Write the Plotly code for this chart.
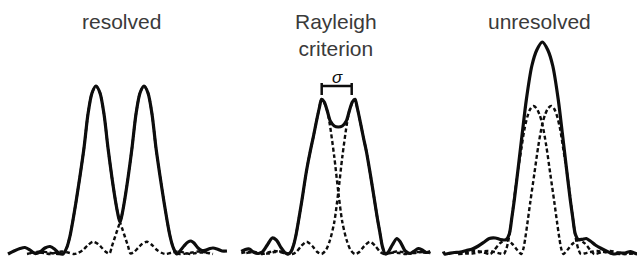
import plotly.graph_objects as go

# ---------------- data (positions relative to panel centre, intensity in a.u.) ----------------
panel_titles = ["resolved", "Rayleigh<br>criterion", "unresolved"]

# Panel 1: resolved
res_sum_x = [-112, -106, -100, -95, -90, -85, -80, -75, -70, -65, -61, -57,
             -53, -50, -47, -44, -40, -36, -32, -28, -24,
             -20, -16, -12, -8, -4, -1.5, 0, 1.5, 4, 8, 12, 16, 20, 24,
             28, 32, 36, 40, 44, 47, 50, 53, 56.7,
             60, 64, 68, 71, 74, 78, 82, 86, 90, 93, 97, 102, 107]
res_sum_y = [0, 3, 5.5, 6.5, 4, 0.5, 2, 6, 7.5, 4.5, 1, 0,
             7, 18, 34, 52, 78, 106, 140, 161, 168,
             161, 140, 106, 76, 50, 37, 32, 37, 50, 76, 106, 140, 161, 168,
             161, 140, 106, 78, 52, 34, 18, 7, 0,
             3, 8, 12, 13, 11, 6, 3.5, 4, 5.5, 6, 5, 3, 3]

res_a_x = [-90, -84, -78, -72, -66, -60, -56, -53, -50, -47, -44, -40, -36, -32, -28, -24,
           -20, -16, -12, -8, -4, -1.5, 0, 2, 4, 6, 8, 10.5, 14, 18, 22, 27, 32, 37, 42, 46,
           52, 58, 64, 70, 76, 82, 88, 93]
res_a_y = [1, 2, 2.5, 1.5, 0.5, 0, 1, 7, 18, 34, 52, 78, 106, 140, 161, 168,
           161, 140, 106, 76, 50, 37, 32, 26, 20, 14, 8, 0.5, 2, 6, 10, 12.3, 9, 4, 1, 0,
           1.5, 2.5, 1.5, 0, 1, 1.5, 1, 0]

res_b_x = [-93, -88, -82, -76, -70, -64, -58, -52, -46, -42, -37, -32, -27, -22, -18, -14,
           -10.5, -8, -6, -4, -2, 0, 1.5, 4, 8, 12, 16, 20, 24, 28, 32, 36, 40, 44, 47, 50,
           53, 56, 60, 66, 72, 78, 84, 90]
res_b_y = [0, 1, 1.5, 1, 0, 1.5, 2.5, 1.5, 0, 1, 4, 9, 12.3, 10, 6, 2,
           0.5, 8, 14, 20, 26, 32, 37, 50, 76, 106, 140, 161, 168, 161, 140, 106, 78, 52, 34, 18,
           7, 1, 0, 0.5, 1.5, 2.5, 2, 1]

# Panel 2: Rayleigh criterion
ray_sum_x = [-97, -93, -89, -85, -80, -76, -71, -66, -62, -57, -53, -50,
             -47.5, -45, -42.5, -40, -36.5, -32, -28, -25, -22, -19, -16.7,
             -14, -11, -8, -4, 0, 4, 8, 11, 14,
             16.7, 19, 22, 25, 28, 32, 36, 39, 41.5, 44, 47,
             50, 54, 58.5, 62, 67, 72, 76, 80, 84, 88, 92]
ray_sum_y = [2.5, 4.5, 5, 2, 0.5, 2, 9, 16, 14, 6, 1, 0,
             2, 8, 18, 32, 53, 82, 103, 117, 132, 146, 154.7,
             152, 143, 133, 128, 127, 128, 133, 143, 152,
             154.7, 146, 132, 117, 103, 80, 55, 36, 22, 8, 0,
             2, 9, 15.5, 12, 3, 0.5, 3, 5.5, 4, 1.5, 2.5]

ray_a_x = [-97, -90, -83, -76, -70, -64, -58, -53, -50, -47.5, -45, -42.5, -40, -36.5, -32,
           -28, -25, -22, -19, -16.7, -14, -11, -8.4, -4, 0, 4, 8.3, 12.3, 16.7,
           21, 26, 31.7, 37, 42, 46, 52, 58, 64, 70, 76, 84, 92]
ray_a_y = [1, 2, 1, 0, 1.5, 3, 2, 0.5, 0, 2, 8, 18, 32, 53, 82,
           103, 117, 132, 146, 154.7, 151, 143, 129, 97, 62, 32, 14, 4, 0,
           2, 8, 12.3, 8, 2, 0, 1, 2.5, 2, 0.5, 1, 2, 1]

ray_b_x = [-92, -84, -76, -70, -64, -58, -52, -46, -42, -37, -31.7, -26, -21, -16.7, -12.3,
           -8.3, -4, 0, 4, 8.4, 11, 14, 16.7, 19, 22, 25, 28, 32, 36, 39, 41.5, 44, 47,
           50, 55, 61, 67, 73, 79, 85, 92]
ray_b_y = [1, 2, 1, 0.5, 2, 2.5, 1, 0, 2, 8, 12.3, 8, 2, 0, 4,
           14, 32, 62, 97, 129, 143, 151, 154.7, 146, 132, 117, 103, 80, 55, 36, 22, 8, 0,
           0.5, 1.5, 1, 0, 1, 2, 1.5, 1]

# Panel 3: unresolved
unr_sum_x = [-99, -97.5, -94, -88, -82, -76, -70, -64, -58, -53, -47, -42, -38, -36, -33,
             -30.5, -28, -24, -20, -16, -10.5, -5.5, 0, 5.5, 10.5, 16, 20, 24, 28, 30.5,
             33, 36, 40, 44, 48, 53, 59, 65, 71, 77, 82.7, 88, 92, 95]
unr_sum_y = [2.5, 0, 0.5, 1.5, 2, 3.5, 5, 8, 12, 15.5, 16, 14.5, 14, 14.5, 20,
             36, 54, 87, 121, 154, 188, 204, 212, 204, 188, 154, 121, 87, 54, 36,
             20, 14.5, 14.7, 15.5, 13, 9, 5.5, 2.5, 0, 1, 1, 2.5, 1, 0]

unr_a_x = [-84, -76, -70, -62, -55, -48, -42, -38.5, -36, -34, -32, -30, -27, -24, -21,
           -18, -15, -12, -9, -6, -3, 0, 4, 8, 12, 15, 17, 19, 21,
           25, 30, 36, 42, 48, 52, 60, 68, 76, 84, 92]
unr_a_y = [0, 0.5, 0.5, 2, 3, 2, 0.5, 0, 5, 13, 25, 40, 64, 86, 105,
           124, 137, 145, 148, 146, 140, 130, 108, 80, 52, 30, 16, 5, 0,
           4, 10, 14, 11, 4, 0, 2, 3, 1.5, 0, 1]

unr_b_x = [-84, -76, -68, -60, -52, -48, -42, -36, -30, -25, -21, -19, -17, -15, -12,
           -8, -4, 0, 3, 6, 9, 12, 15, 18, 21, 24, 27, 30, 32, 34, 36, 38.5,
           42, 48, 55, 62, 70, 80, 90, 94]
unr_b_y = [0, 1.5, 3, 2, 0, 4, 11, 14, 10, 4, 0, 5, 16, 30, 52,
           80, 108, 130, 140, 146, 148, 145, 137, 124, 105, 86, 64, 40, 25, 13, 5, 0,
           0.5, 2, 3, 2, 0.5, 0, 0.5, 0]

# Rayleigh separation marker (sigma) ends and level
sigma_ends = [-16.6, 13.4]
sigma_level = 168

# ---------------- figure ----------------
W, H = 637, 263
panel_px = [(0, 234, 120), (234, 437, 338.3), (437, 637, 542.3)]  # left, right, centre (px)
y_range = [-9, 254]

fig = go.Figure()
solid = dict(color="#0d0d0d", width=3.2)
dashed = dict(color="#0d0d0d", width=2.4, dash="4px,2.6px")

panels = [
    (res_a_x, res_a_y, res_b_x, res_b_y, res_sum_x, res_sum_y),
    (ray_a_x, ray_a_y, ray_b_x, ray_b_y, ray_sum_x, ray_sum_y),
    (unr_a_x, unr_a_y, unr_b_x, unr_b_y, unr_sum_x, unr_sum_y),
]

for i, (ax, ay, bx, by, sx, sy) in enumerate(panels):
    suffix = "" if i == 0 else str(i + 1)
    xa, ya = "x" + suffix, "y" + suffix
    for xx, yy in ((ax, ay), (bx, by)):
        fig.add_trace(go.Scatter(x=xx, y=yy, mode="lines", line=dict(**dashed, shape="spline", smoothing=0.8),
                                 xaxis=xa, yaxis=ya, hoverinfo="skip", showlegend=False))
    fig.add_trace(go.Scatter(x=sx, y=sy, mode="lines", line=dict(**solid, shape="spline", smoothing=0.8),
                             xaxis=xa, yaxis=ya, hoverinfo="skip", showlegend=False))

layout = dict(width=W, height=H, margin=dict(l=0, r=0, t=0, b=0),
              paper_bgcolor="white", plot_bgcolor="white", showlegend=False)
for i, (l, r, c) in enumerate(panel_px):
    suffix = "" if i == 0 else str(i + 1)
    layout["xaxis" + suffix] = dict(domain=[l / W, r / W], range=[l - c, r - c], visible=False,
                                    fixedrange=True, anchor="y" + suffix)
    layout["yaxis" + suffix] = dict(domain=[0, 1], range=y_range, visible=False, fixedrange=True,
                                    anchor="x" + suffix)
fig.update_layout(**layout)

# titles
title_font = dict(family="Liberation Sans, Arial, sans-serif", size=21, color="#3a3a3a")
title_y = [1 - 21 / H, 1 - 35 / H, 1 - 21 / H]
for i, (l, r, c) in enumerate(panel_px):
    fig.add_annotation(text=panel_titles[i], x=c / W + (1 / W if i == 0 else (-2 / W if i == 1 else -3 / W)),
                       y=title_y[i], xref="paper", yref="paper", showarrow=False, font=title_font,
                       xanchor="center", yanchor="middle")

# sigma marker on Rayleigh panel
bar = dict(color="#0d0d0d", width=2.5)
fig.add_shape(type="line", xref="x2", yref="y2", x0=sigma_ends[0], x1=sigma_ends[1],
              y0=sigma_level, y1=sigma_level, line=bar)
for xe in sigma_ends:
    fig.add_shape(type="line", xref="x2", yref="y2", x0=xe, x1=xe,
                  y0=sigma_level + 3, y1=sigma_level - 9, line=bar)
fig.add_annotation(text="<i>σ</i>", x=(sigma_ends[0] + sigma_ends[1]) / 2 + 1, y=sigma_level + 9,
                   xref="x2", yref="y2", showarrow=False, yanchor="middle",
                   font=dict(family="Liberation Sans, Arial, sans-serif", size=17, color="#0d0d0d"))

fig.write_html("out.html", config={"displayModeBar": False, "staticPlot": True},
               post_script="document.body.style.margin='0';document.body.style.overflow='hidden';")
